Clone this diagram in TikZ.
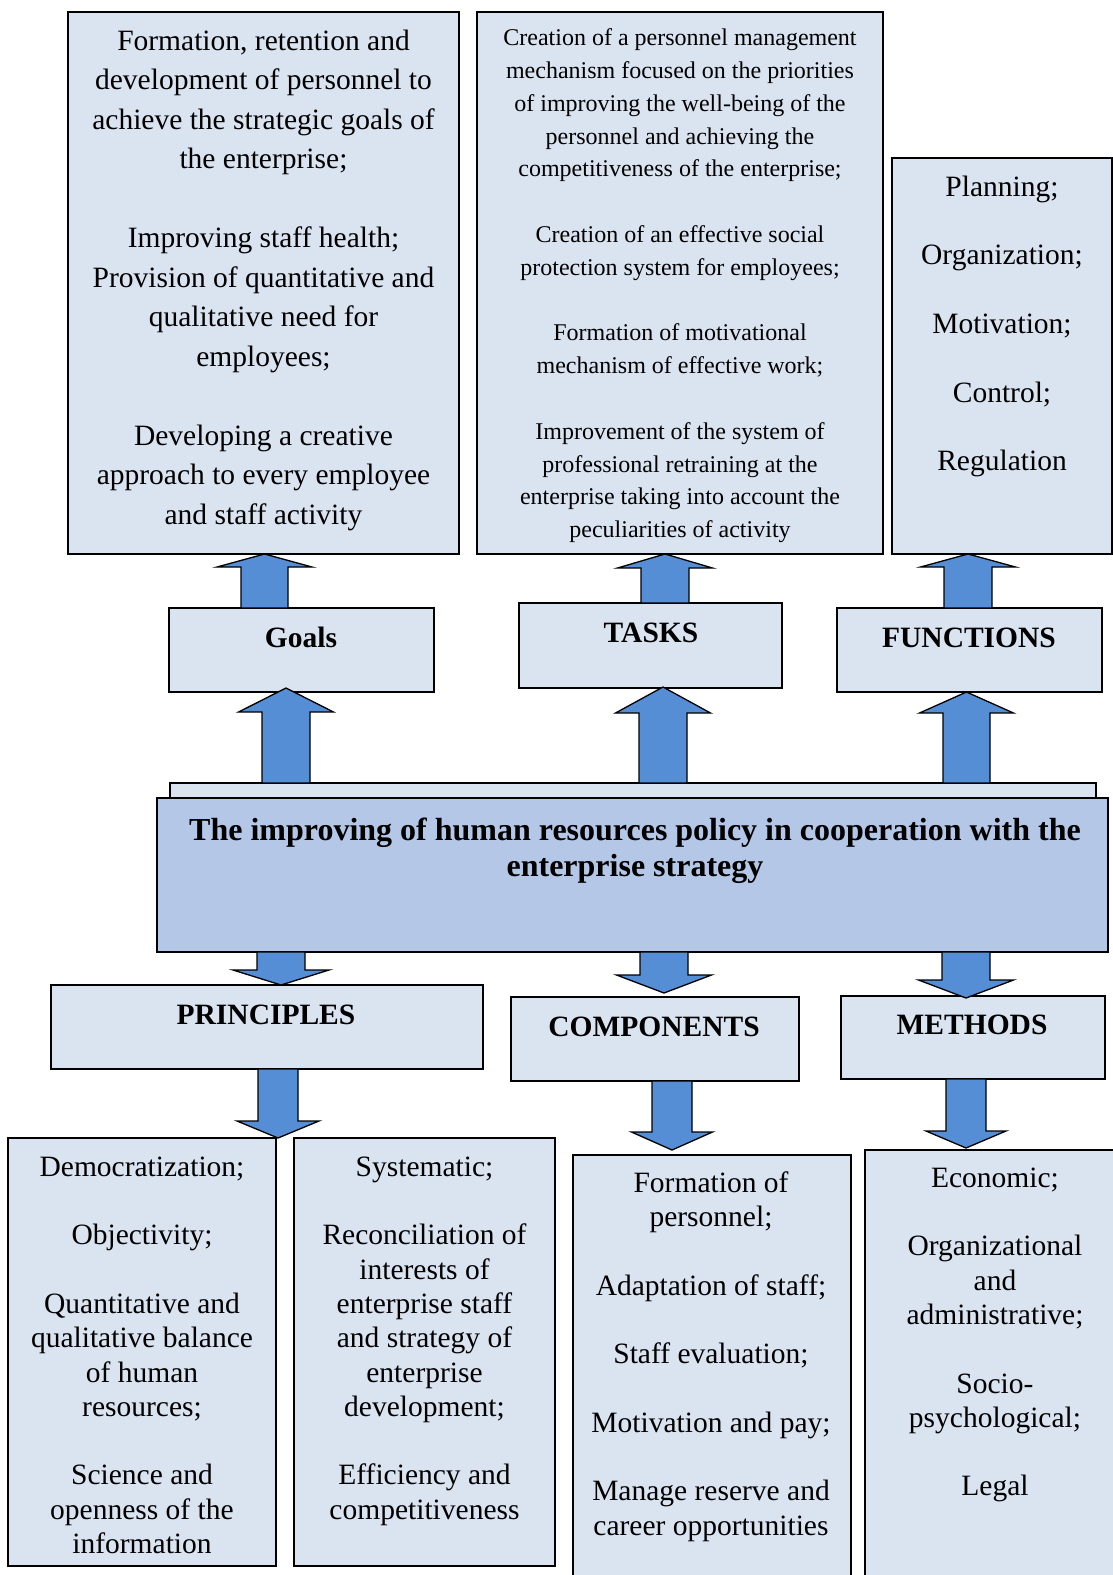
\documentclass[tikz,border=0pt]{standalone}
\usepackage{fontspec}
\setmainfont{Liberation Serif}
\usetikzlibrary{calc}
\definecolor{boxfill}{HTML}{DAE3F0}
\definecolor{mainfill}{HTML}{B4C7E7}
\definecolor{arrfill}{HTML}{558ED5}
\newcommand{\blockarrow}[6]{%
  \filldraw[barrow] let \p1=(#1), \p2=(#2), \n1={ifthenelse(\y2>\y1,1,-1)} in
    ({\x2-#3},\y1) -- ({\x2-#3},{\y2+\n1*(#6)-\n1*(#5)}) -- ({\x2-#4},{\y2+\n1*(#6)-\n1*(#5)})
    -- (\x2,{\y2+\n1*(#6)}) -- ({\x2+#4},{\y2+\n1*(#6)-\n1*(#5)}) -- ({\x2+#3},{\y2+\n1*(#6)-\n1*(#5)})
    -- ({\x2+#3},\y1) -- cycle;}
\begin{document}
\begin{tikzpicture}[x=1pt,y=-1pt,
  box/.style={draw=black, line width=1.4pt, fill=boxfill, inner sep=0pt, outer sep=0pt},
  mainbox/.style={box, fill=mainfill},
  barrow/.style={draw=black, line width=1.3pt, fill=arrfill, line join=miter},
  bodytxt/.style={align=center, inner sep=0pt, anchor=north},
  lbl/.style={anchor=base, inner sep=0pt, font=\bfseries\fontsize{29.5}{35}\selectfont},
  ttl/.style={align=center, inner sep=0pt, anchor=north, font=\bfseries\fontsize{32}{36.5}\selectfont}]
\useasboundingbox (0,0) rectangle (1113,1575);
\clip (0,0) rectangle (1113,1575);
\fill[white] (0,0) rectangle (1113,1575);

% top text boxes
\node[box, minimum width=391pt, minimum height=542pt] (goalsText) at (263.5,283) {};
\node[box, minimum width=406pt, minimum height=542pt] (tasksText) at (680,283) {};
\node[box, minimum width=220pt, minimum height=396pt] (funcText) at (1002,356) {};

% label boxes
\node[box, minimum width=265pt, minimum height=84pt] (goalsBox) at (301.5,650) {};
\node[box, minimum width=263pt, minimum height=85pt] (tasksBox) at (650.5,645.5) {};
\node[box, minimum width=265pt, minimum height=84pt] (funcBox) at (969.5,650) {};

% central block
\node[box, minimum width=926pt, minimum height=27pt] (backBar) at (633,796.5) {};
\node[mainbox, minimum width=951pt, minimum height=154pt] (mainBox) at (632.5,875) {};

\node[box, minimum width=432pt, minimum height=84pt] (princBox) at (267,1027) {};
\node[box, minimum width=288pt, minimum height=84pt] (compBox) at (655,1039) {};
\node[box, minimum width=264pt, minimum height=83pt] (methBox) at (973,1037.5) {};

% bottom text boxes
\node[box, minimum width=268pt, minimum height=428pt] (democBox) at (142,1352) {};
\node[box, minimum width=261pt, minimum height=428pt] (systBox) at (424.5,1352) {};
\node[box, minimum width=278pt, minimum height=440pt] (formBox) at (712,1375) {};
\node[box, minimum width=260pt, minimum height=440pt] (econBox) at (995,1370) {};

% texts
\node[bodytxt, font=\fontsize{29.5}{39.5}\selectfont] (goalsTxt) at (263.5,22.5)
 {\strut Formation, retention and\\development of personnel to\\achieve the strategic goals of\\the enterprise;\\[39.5pt]
  Improving staff health;\\Provision of quantitative and\\qualitative need for\\employees;\\[39.5pt]
  Developing a creative\\approach to every employee\\and staff activity};
\node[bodytxt, font=\fontsize{24}{32.8}\selectfont] (tasksTxt) at (680,22.5)
 {\strut Creation of a personnel management\\mechanism focused on the priorities\\of improving the well-being of the\\personnel and achieving the\\competitiveness of the enterprise;\\[32.8pt]
  Creation of an effective social\\protection system for employees;\\[32.8pt]
  Formation of motivational\\mechanism of effective work;\\[32.8pt]
  Improvement of the system of\\professional retraining at the\\enterprise taking into account the\\peculiarities of activity};
\node[bodytxt, font=\fontsize{29.5}{34.3}\selectfont] (funcTxt) at (1002,172)
 {\strut Planning;\\[34.3pt]Organization;\\[34.3pt]Motivation;\\[34.3pt]Control;\\[34.3pt]Regulation};

\node[lbl] (goalsLbl) at (301,647) {Goals};
\node[lbl] (tasksLbl) at (651,642) {TASKS};
\node[lbl] (funcLbl) at (969,647) {FUNCTIONS};

\node[ttl] (title) at (635,814.45)
 {\strut The improving of human resources policy in cooperation with the\\enterprise strategy};

\node[lbl] (princLbl) at (266,1024) {PRINCIPLES};
\node[lbl] (compLbl) at (654,1036) {COMPONENTS};
\node[lbl] (methLbl) at (972,1034) {METHODS};

\node[bodytxt, font=\fontsize{29.5}{34.3}\selectfont] (democTxt) at (142,1152)
 {\strut Democratization;\\[34.3pt]Objectivity;\\[34.3pt]Quantitative and\\qualitative balance\\of human\\resources;\\[34.3pt]
  Science and\\openness of the\\information};
\node[bodytxt, font=\fontsize{29.5}{34.3}\selectfont] (systTxt) at (424.5,1152)
 {\strut Systematic;\\[34.3pt]Reconciliation of\\interests of\\enterprise staff\\and strategy of\\enterprise\\development;\\[34.3pt]
  Efficiency and\\competitiveness};
\node[bodytxt, font=\fontsize{29.5}{34.3}\selectfont] (formTxt) at (711,1168)
 {\strut Formation of\\personnel;\\[34.3pt]Adaptation of staff;\\[34.3pt]Staff evaluation;\\[34.3pt]Motivation and pay;\\[34.3pt]
  Manage reserve and\\career opportunities};
\node[bodytxt, font=\fontsize{29.5}{34.3}\selectfont] (econTxt) at (995,1163)
 {\strut Economic;\\[34.3pt]Organizational\\and\\administrative;\\[34.3pt]Socio-\\psychological;\\[34.3pt]Legal};

% block arrows: tail, tip, shaft half, head half, head length, tip offset
\blockarrow{goalsBox.north}{goalsText.south -| 264.5,0}{23.5}{47.5}{13}{0}
\blockarrow{backBar.north}{goalsBox.south -| 286,0}{24}{47.5}{24}{4}
\blockarrow{tasksBox.north}{tasksText.south -| 665,0}{24}{47.5}{14}{0}
\blockarrow{backBar.north}{tasksBox.south -| 663,0}{24}{47.5}{26}{1}
\blockarrow{funcBox.north}{funcText.south -| 968,0}{24}{47.5}{13}{0}
\blockarrow{backBar.north}{funcBox.south -| 966.5,0}{23.5}{47}{21}{0}

\blockarrow{mainBox.south}{princBox.north -| 281,0}{24}{48}{15}{0}
\blockarrow{mainBox.south}{compBox.north -| 664,0}{24}{47.5}{18}{-4}
\blockarrow{mainBox.south}{methBox.north -| 966,0}{24}{47.5}{18}{2}

\blockarrow{princBox.south}{democBox.north -| 278,0}{20}{41}{17}{0}
\blockarrow{compBox.south}{formBox.north -| 672,0}{20}{40.5}{18}{-5}
\blockarrow{methBox.south}{econBox.north -| 966,0}{20}{40}{17}{-2}
\end{tikzpicture}
\end{document}
